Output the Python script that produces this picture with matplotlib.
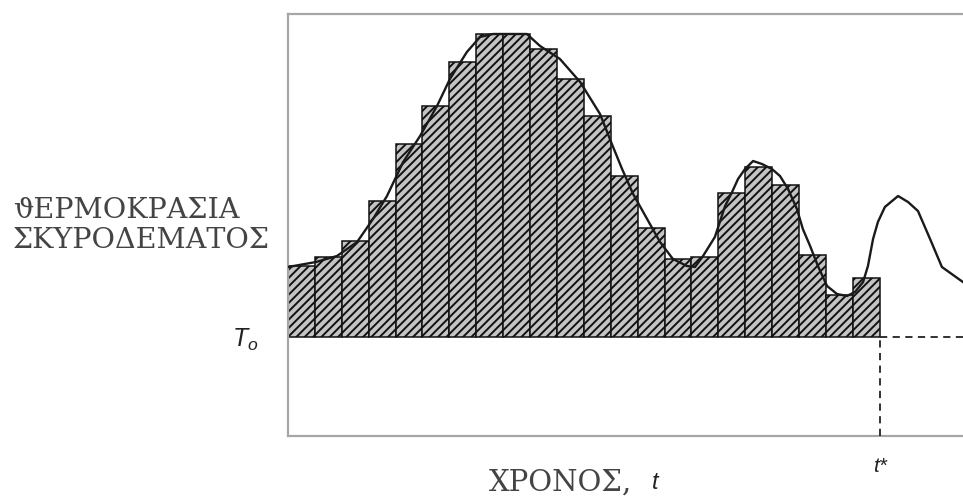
import numpy as np
import matplotlib
matplotlib.use("Agg")
import matplotlib.pyplot as plt

# bar heights above T0 (one bar per time step, up to t*)
bar_heights = [7.1, 8.0, 9.6, 13.6, 19.3, 23.1, 27.5, 30.3, 30.3, 28.8, 25.8,
               22.1, 16.1, 10.9, 7.8, 8.0, 14.4, 17.0, 15.2, 8.2, 4.2, 5.9]

# measured temperature curve (time, temperature above T0)
curve_t = [0.0, 1.04, 1.82, 2.57, 3.16, 3.68, 4.28, 4.91, 5.54, 6.02, 6.65,
           7.14, 7.62, 8.88, 9.37, 10.11, 10.86, 11.60, 12.04, 12.42, 12.83,
           13.35, 13.83, 14.31, 14.83, 15.13, 15.43, 15.87, 16.25, 16.51,
           16.73, 16.99, 17.29, 17.62, 17.99, 18.29, 18.59, 18.92, 19.14,
           19.41, 19.70, 20.04, 20.41, 20.78, 21.08, 21.38, 21.56, 21.75,
           21.93, 22.19, 22.68, 23.05, 23.42, 23.87, 24.31, 25.09]
curve_T = [7.0, 7.5, 8.1, 9.5, 11.8, 14.1, 17.5, 20.1, 23.1, 25.8, 28.5,
           30.0, 30.3, 30.3, 29.1, 27.8, 25.5, 22.3, 19.3, 16.8, 14.3,
           11.8, 9.5, 7.8, 7.1, 7.0, 8.1, 10.0, 13.1, 14.5,
           15.8, 16.8, 17.6, 17.3, 16.8, 16.1, 14.8, 12.8, 10.8,
           9.1, 7.1, 5.1, 4.3, 4.1, 4.5, 5.5, 7.1, 9.8,
           11.5, 13.0, 14.1, 13.5, 12.6, 9.8, 7.0, 5.5]

t_star = 22
x_max = 25.54
y_min, y_max = -9.9, 32.3

ylabel_lines = ["ϑΕΡΜΟΚΡΑΣΙΑ", "ΣΚΥΡΟΔΕΜΑΤΟΣ"]
xlabel_text = "ΧΡΟΝΟΣ,"

plt.rcParams['hatch.linewidth'] = 1.4
plt.rcParams['mathtext.fontset'] = 'custom'
plt.rcParams['mathtext.it'] = 'Liberation Sans:italic'
plt.rcParams['mathtext.rm'] = 'Liberation Sans'

W, H = 963, 502
fig = plt.figure(figsize=(W / 100, H / 100), dpi=100)
# axes box runs past the right edge of the picture, like the original
ax = fig.add_axes([288 / W, 1 - 437 / H, (975 - 288) / W, (437 - 15) / H])

x = np.arange(len(bar_heights))
ax.bar(x, bar_heights, width=1.0, align='edge', facecolor='#c4c4c4',
       edgecolor='#111111', hatch='////', linewidth=1.1, zorder=2)

ax.plot(curve_t, curve_T, color='#1a1a1a', lw=1.7, zorder=3)

# T0 level and t* marker
ax.plot([t_star, x_max], [0, 0], color='#222222', lw=1.3, ls=(0, (4, 3)), zorder=3)
ax.plot([t_star, t_star], [y_min, 0], color='#222222', lw=1.3, ls=(0, (4, 3)), zorder=3)

ax.set_xlim(0, x_max)
ax.set_ylim(y_min, y_max)
ax.set_xticks([])
ax.set_yticks([])
for sp in ax.spines.values():
    sp.set_color('#a6a6a6')
    sp.set_linewidth(1.6)

serif = ['DejaVu Serif', 'Liberation Serif']
fig.text(13 / W, 1 - 210 / H, ylabel_lines[0], family=serif, fontsize=20.5,
         color='#444444', ha='left', va='center')
fig.text(13 / W, 1 - 241 / H, ylabel_lines[1], family=serif, fontsize=20.5,
         color='#444444', ha='left', va='center')
fig.text(245 / W, 1 - 340 / H, r'$T_o$', fontsize=18, color='#222222',
         ha='center', va='center')

fig.text(632 / W, 1 - 483 / H, xlabel_text, family=serif, fontsize=21,
         color='#444444', ha='right', va='center')
fig.text(655 / W, 1 - 483 / H, 't', family='Liberation Sans', style='italic',
         fontsize=17, color='#222222', ha='center', va='center')
fig.text(880 / W, 1 - 467 / H, 't*', family='Liberation Sans', style='italic',
         fontsize=15, color='#222222', ha='center', va='center')

fig.savefig('out.png', dpi=100, facecolor='white')
